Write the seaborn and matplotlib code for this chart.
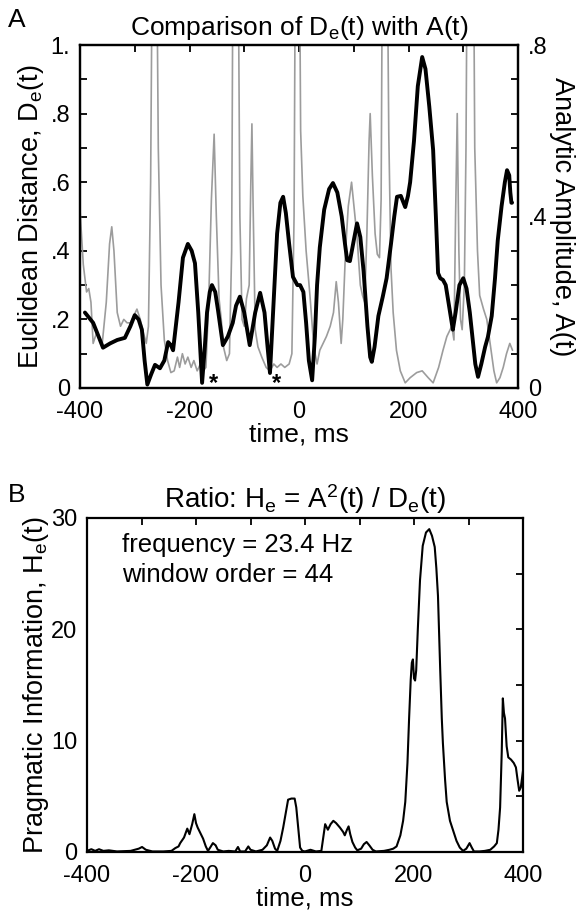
import numpy as np
import pandas as pd
import matplotlib
matplotlib.use("Agg")
import matplotlib.pyplot as plt
from matplotlib.ticker import FixedLocator, FixedFormatter
import seaborn as sns

# ---------------- data ----------------
# Euclidean distance D_e(t), left axis (values > 1 are clipped by the frame)
de_time = [-400, -394, -388, -384, -380, -376, -370, -365, -360, -352, -346, -342, -338, -332,
           -326, -320, -314, -308, -302, -296, -290, -284, -279, -275, -271, -267, -261, -257,
           -252, -246, -240, -234, -228, -222, -218, -213, -208, -203, -197, -192, -186, -180,
           -175, -170, -165, -160, -155, -151, -146, -142, -138, -132, -127, -123, -120, -112,
           -108, -104, -100, -96, -91, -88, -86, -84, -80, -75, -68, -60, -53, -46, -40, -33,
           -26, -18, -13, -9, -6, 0, 3, 7, 13, 20, 27, 33, 38, 44, 50, 57, 63, 68, 72, 77, 80,
           85, 90, 96, 101, 106, 112, 116, 120, 124, 128, 130, 134, 139, 143, 147, 150, 153, 160,
           164, 168, 172, 178, 185, 194, 203, 215, 225, 236, 245, 255, 263, 270, 279, 283, 286,
           289, 292, 295, 298, 302, 305, 308, 318, 321, 326, 330, 337, 343, 350, 356, 361, 367,
           373, 379, 385, 390]
de_value = [0.52, 0.36, 0.28, 0.29, 0.25, 0.13, 0.16, 0.15, 0.12, 0.25, 0.42, 0.47, 0.40, 0.22,
            0.18, 0.20, 0.19, 0.19, 0.21, 0.23, 0.20, 0.16, 0.13, 0.18, 0.60, 1.5, 1.5, 0.70,
            0.30, 0.14, 0.08, 0.045, 0.05, 0.09, 0.06, 0.10, 0.07, 0.09, 0.06, 0.08, 0.05, 0.07,
            0.05, 0.06, 0.25, 0.55, 0.74, 0.50, 0.26, 0.20, 0.12, 0.08, 0.10, 0.40, 1.5, 1.5,
            0.50, 0.20, 0.18, 0.26, 0.30, 0.60, 0.77, 0.55, 0.17, 0.12, 0.09, 0.06, 0.05, 0.07, 0.06, 0.07,
            0.06, 0.07, 0.10, 0.50, 1.5, 1.5, 0.75, 0.56, 0.40, 0.27, 0.12, 0.07, 0.11, 0.13, 0.15, 0.18, 0.22, 0.31, 0.25, 0.13, 0.20,
            0.40, 0.53, 0.60, 0.52, 0.44, 0.30, 0.27, 0.25, 0.45, 0.72, 0.80, 0.62, 0.45, 0.39, 0.38, 0.55, 1.5, 1.5,
            0.74, 0.35, 0.22, 0.11, 0.05, 0.015, 0.03, 0.045, 0.05, 0.03, 0.015, 0.06, 0.11, 0.15, 0.18, 0.14, 0.50,
            0.80, 0.40, 0.20, 0.17, 0.30, 0.70, 1.5, 1.5, 0.70, 0.40, 0.27, 0.23, 0.20, 0.12, 0.05, 0.015, 0.03,
            0.06, 0.10, 0.13, 0.11]

# Analytic amplitude A(t), right axis
amp_time = [-391, -376, -366, -358, -345, -332, -318, -308, -300, -293, -287, -282, -277, -270,
            -263, -254, -246, -239, -234, -230, -220, -212, -203, -196, -190, -184, -177, -172,
            -168, -163, -159, -153, -148, -139, -130, -121, -115, -108, -100, -90, -80, -71, -63,
            -58, -53, -48, -40, -34, -29, -24, -18, -11, -3, 2, 8, 13, 18, 24, 29, 33, 38, 46,
            55, 62, 70, 78, 84, 88, 93, 100, 106, 112, 118, 125, 130, 133, 138, 145, 153, 160,
            168, 174, 179, 186, 194, 199, 203, 210, 217, 225, 231, 238, 245, 250, 254, 258, 263,
            268, 272, 278, 281, 286, 293, 300, 306, 312, 318, 322, 327, 333, 340, 345, 352, 358,
            363, 370, 376, 380, 384, 386, 388, 389]
amp_value = [0.176, 0.152, 0.120, 0.094, 0.104, 0.112, 0.117, 0.144, 0.170, 0.160, 0.136, 0.064,
             0.008, 0.032, 0.054, 0.046, 0.064, 0.107, 0.100, 0.088, 0.200, 0.304, 0.336, 0.320,
             0.291, 0.176, 0.012, 0.096, 0.176, 0.224, 0.240, 0.224, 0.182, 0.100, 0.120, 0.152,
             0.192, 0.213, 0.176, 0.100, 0.176, 0.222, 0.176, 0.104, 0.035, 0.160, 0.360, 0.432,
             0.446, 0.408, 0.336, 0.259, 0.240, 0.240, 0.224, 0.152, 0.064, 0.018, 0.120, 0.240,
             0.328, 0.416, 0.464, 0.478, 0.456, 0.400, 0.336, 0.298, 0.296, 0.344, 0.384, 0.352,
             0.272, 0.144, 0.072, 0.061, 0.096, 0.168, 0.213, 0.256, 0.336, 0.400, 0.446, 0.448,
             0.422, 0.448, 0.480, 0.576, 0.704, 0.772, 0.744, 0.656, 0.555, 0.400, 0.268, 0.256,
             0.252, 0.240, 0.208, 0.160, 0.136, 0.176, 0.240, 0.256, 0.232, 0.176, 0.104, 0.056,
             0.026, 0.056, 0.096, 0.119, 0.168, 0.256, 0.344, 0.424, 0.480, 0.508, 0.496, 0.456,
             0.432, 0.432]

# Asterisk markers (time, D_e level)
star_time = [-165, -50]
star_level = [-0.02, -0.02]

# Pragmatic information H_e(t)
he_time = [-400, -392, -385, -378, -370, -360, -345, -320, -305, -299, -292, -280, -260, -245,
           -238, -232, -229, -222, -216, -212, -207, -203, -200, -197, -193, -187, -182, -178,
           -174, -169, -164, -160, -150, -140, -128, -123, -119, -110, -104, -100, -90, -78, -70,
           -64, -60, -55, -51, -45, -40, -35, -31, -25, -19, -16, -12, -9, -5, 0, 10, 20, 30, 34,
           37, 42, 47, 52, 57, 64, 70, 73, 77, 80, 83, 87, 92, 96, 103, 108, 113, 118, 124, 130,
           145, 155, 162, 168, 175, 180, 184, 188, 191, 194, 196, 198, 200, 202, 204, 207, 211,
           216, 222, 228, 233, 238, 241, 244, 248, 251, 253, 257, 260, 266, 272, 278, 284, 290,
           296, 302, 306, 310, 320, 330, 340, 347, 352, 355, 358, 361, 363, 365, 367, 370, 373,
           378, 383, 387, 390, 393, 396, 400]
he_value = [0.1, 0.25, 0.1, 0.25, 0.1, 0.15, 0.05, 0.1, 0.3, 0.45, 0.2, 0.05, 0.05, 0.1,
            0.35, 0.5, 0.8, 1.3, 2.1, 1.6, 2.5, 3.4, 2.6, 2.2, 1.8, 1.2, 0.5, 0.1,
            0.4, 0.8, 0.6, 0.2, 0.05, 0.1, 0.05, 0.45, 0.05, 0.05, 0.5, 0.2, 0.05, 0.2, 0.6,
            1.3, 1.0, 0.3, 0.1, 1.0, 2.2, 3.6, 4.7, 4.8, 4.8, 4.0, 2.0, 0.4, 0.1, 0.05, 0.2, 0.05, 0.1, 1.5,
            2.5, 2.0, 2.5, 2.8, 2.6, 2.2, 1.8, 1.5, 2.0, 2.3, 1.6, 0.9, 0.4, 0.15, 0.3, 0.7, 0.9, 0.6, 0.2, 0.05,
            0.1, 0.2, 0.3, 0.5, 1.5, 2.8, 4.5, 8.0, 12.0, 15.5, 17.0, 17.3, 15.6, 15.4, 16.3, 20.0, 24.4,
            27.5, 28.7, 29.0, 28.4, 27.4, 25.5, 23.0, 16.5, 12.0, 9.8, 6.5, 4.5, 2.8, 1.9, 1.0, 0.4, 0.1,
            0.3, 0.8, 0.4, 0.05, 0.05, 0.1, 0.2, 0.5, 0.8, 2.0, 4.0, 9.0, 13.8, 12.5, 12.0, 9.5, 8.5,
            8.3, 8.0, 7.6, 6.5, 5.5, 5.8, 7.3]

xticks_major = [-400, -200, 0, 200, 400]
xtick_labels = ["-400", "-200", "0", "200", "400"]
de_ticks = [0, 0.2, 0.4, 0.6, 0.8, 1.0]
de_tick_labels = ["0", ".2", ".4", ".6", ".8", "1."]
amp_ticks = [0, 0.4, 0.8]
amp_tick_labels = ["0", ".4", ".8"]
he_ticks = [0, 10, 20, 30]
he_tick_labels = ["0", "10", "20", "30"]

# ---------------- style ----------------
sns.set_style("white")
plt.rcParams["font.family"] = ["Liberation Sans", "DejaVu Sans"]
plt.rcParams["mathtext.default"] = "regular"
for key in ("text.color", "axes.labelcolor", "xtick.color", "ytick.color"):
    plt.rcParams[key] = "black"

TICK_FS = 17
LAB_FS = 19
YLAB_FS = 19.5
TITLE_FS = 19

fig = plt.figure(figsize=(5.79, 9.15), dpi=100)
ax1 = fig.add_axes([80 / 579, 1 - 388 / 915, 438 / 579, 343 / 915])
ax3 = fig.add_axes([87 / 579, 1 - 852 / 915, 436 / 579, 334 / 915])

df_de = pd.DataFrame({"t": de_time, "v": de_value})
df_amp = pd.DataFrame({"t": amp_time, "v": amp_value})
df_he = pd.DataFrame({"t": he_time, "v": he_value})

# ---- panel A ----
sns.lineplot(data=df_de, x="t", y="v", ax=ax1, color="#9c9c9c", linewidth=1.2,
             estimator=None, sort=False)
ax2 = ax1.twinx()
sns.lineplot(data=df_amp, x="t", y="v", ax=ax2, color="black", linewidth=2.8,
             estimator=None, sort=False)
for t, lv in zip(star_time, star_level):
    ax1.text(t, lv, "*", ha="left", va="bottom", fontsize=17, fontweight="bold",
             clip_on=False)

ax1.set_xlim(-400, 400)
ax1.set_ylim(0, 1)
ax2.set_ylim(0, 0.8)
ax1.xaxis.set_major_locator(FixedLocator(xticks_major))
ax1.xaxis.set_major_formatter(FixedFormatter(xtick_labels))
ax1.xaxis.set_minor_locator(FixedLocator(np.arange(-400, 401, 100)))
ax1.yaxis.set_major_locator(FixedLocator(de_ticks))
ax1.yaxis.set_major_formatter(FixedFormatter(de_tick_labels))
ax1.yaxis.set_minor_locator(FixedLocator(np.arange(0, 1.01, 0.1)))
ax2.yaxis.set_major_locator(FixedLocator(amp_ticks))
ax2.yaxis.set_major_formatter(FixedFormatter(amp_tick_labels))
ax2.yaxis.set_minor_locator(FixedLocator(np.arange(0, 0.81, 0.08)))

ax1.tick_params(axis="x", which="both", direction="in", length=5, width=1.3,
                labelsize=TICK_FS, top=True, pad=9)
ax1.tick_params(axis="y", which="both", direction="in", length=5, width=1.3,
                labelsize=TICK_FS, right=False, pad=7)
ax2.tick_params(axis="y", which="both", direction="in", length=5, width=1.3,
                labelsize=TICK_FS, right=True, left=False, pad=7)
ax1.set_xlabel("time, ms", fontsize=LAB_FS, labelpad=0)
ax1.set_ylabel("Euclidean Distance, $D_e$(t)", fontsize=YLAB_FS, labelpad=3)
ax2.set_ylabel("Analytic Amplitude, A(t)", fontsize=YLAB_FS, rotation=270, labelpad=20)
ax1.set_title("Comparison of $D_e$(t) with A(t)", fontsize=TITLE_FS, pad=7)
for a in (ax1, ax2):
    for s in a.spines.values():
        s.set_linewidth(1.6)
        s.set_color("black")
fig.text(8 / 579, 1 - 20 / 915, "A", fontsize=TITLE_FS, ha="left", va="center")

# ---- panel B ----
sns.lineplot(data=df_he, x="t", y="v", ax=ax3, color="black", linewidth=1.5,
             estimator=None, sort=False)
ax3.set_xlim(-400, 400)
ax3.set_ylim(0, 30)
ax3.xaxis.set_major_locator(FixedLocator(xticks_major))
ax3.xaxis.set_major_formatter(FixedFormatter(xtick_labels))
ax3.xaxis.set_minor_locator(FixedLocator(np.arange(-400, 401, 100)))
ax3.yaxis.set_major_locator(FixedLocator(he_ticks))
ax3.yaxis.set_major_formatter(FixedFormatter(he_tick_labels))
ax3.yaxis.set_minor_locator(FixedLocator(np.arange(0, 31, 5)))
ax3.tick_params(axis="x", which="both", direction="in", length=5, width=1.3,
                labelsize=TICK_FS, top=True, pad=9)
ax3.tick_params(axis="y", which="both", direction="in", length=5, width=1.3,
                labelsize=TICK_FS, right=True, pad=7)
ax3.set_xlabel("time, ms", fontsize=LAB_FS - 0.5, labelpad=0)
ax3.set_ylabel("Pragmatic Information, $H_e$(t)", fontsize=YLAB_FS, labelpad=0)
ax3.set_title("Ratio: $H_e$ = $A^2$(t) / $D_e$(t)", fontsize=TITLE_FS + 1, pad=7)
ax3.text(0.08, 0.875, "frequency = 23.4 Hz\nwindow order = 44", transform=ax3.transAxes,
         fontsize=LAB_FS - 0.5, ha="left", va="center", linespacing=1.3)
for s in ax3.spines.values():
    s.set_linewidth(1.6)
    s.set_color("black")
fig.text(8 / 579, 1 - 495 / 915, "B", fontsize=TITLE_FS, ha="left", va="center")

fig.savefig("out.png", dpi=100)
